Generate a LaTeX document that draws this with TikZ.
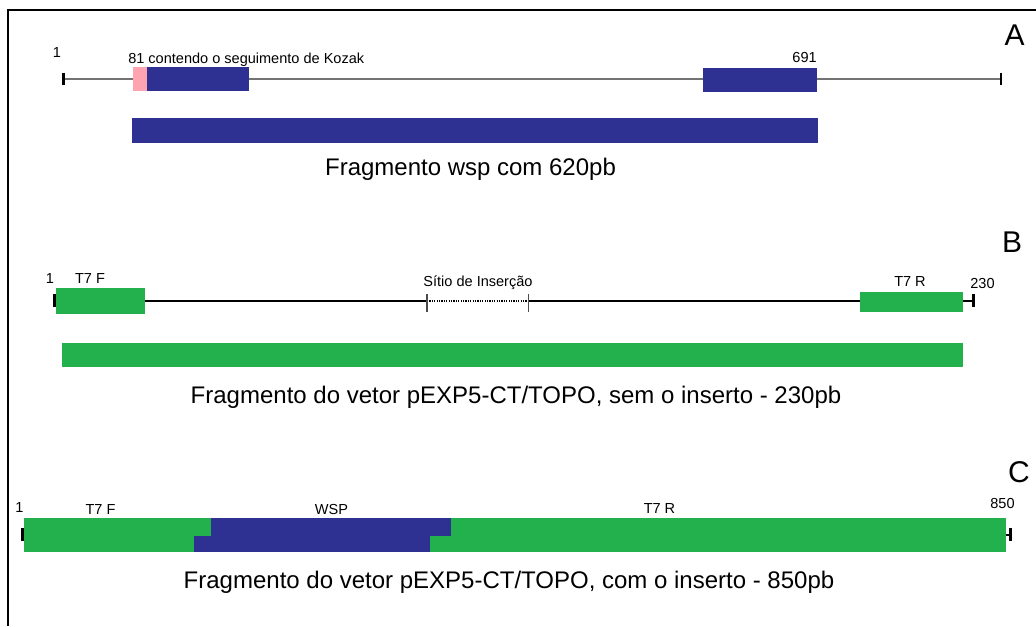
\documentclass[tikz,border=0pt]{standalone}
\usepackage{fontspec}
\setmainfont{Liberation Sans}
\definecolor{wspblue}{HTML}{2E3192}
\definecolor{vetorgreen}{HTML}{22B14C}
\definecolor{kozakpink}{HTML}{FFA3B1}
\begin{document}
\begin{tikzpicture}[x=0.75pt, y=-0.75pt,
        rotulo/.style={inner sep=0pt, anchor=base, font=\fontsize{10.9}{13}\selectfont},
        legenda/.style={inner sep=0pt, anchor=base, font=\fontsize{18}{22}\selectfont},
        painel/.style={inner sep=0pt, anchor=base, font=\fontsize{22.5}{27}\selectfont},
        marca/.style={line width=1.9pt}]
    \useasboundingbox (0,0) rectangle (1036,626);
    % Frame
    \draw[line width=0.8pt] (8,626) -- (8,10) -- (1036,10);

    % A: wsp gene
    \coordinate (aIni) at (63.5,79);
    \coordinate (aFim) at (1001,79);
    \draw[black!55, line width=1.5pt] (aIni) -- (aFim);
    \foreach \p in {aIni, aFim}
        \draw[marca] (\p) ++(0,-6.5) -- ++(0,12.5);
    \fill[kozakpink] (133,67) rectangle (147,91);
    \fill[wspblue] (147,67) rectangle (249,91);
    \fill[wspblue] (703,68) rectangle (817,92);
    % amplified fragment
    \fill[wspblue] (132,118) rectangle (818,143);
    \node[painel] (letraA) at (1014.5,45) {A};
    \node[rotulo] (a1) at (57,57) {1};
    \node[rotulo, anchor=base west] (a81) at (128,63) {81 contendo o seguimento de Kozak};
    \node[rotulo, anchor=base east] (a691) at (817,62) {691};
    \node[legenda] (aLeg) at (470.5,175) {Fragmento wsp com 620pb};

    % B: vector without insert
    \coordinate (bIni) at (54.5,301);
    \coordinate (bFim) at (973.5,301);
    \coordinate (sIni) at (427,301);
    \coordinate (sFim) at (528.5,301);
    \draw[line width=1.7pt] (bIni) -- (sIni);
    \draw[line width=0.8pt, dash pattern=on 0.9pt off 0.9pt] (sIni) -- (sFim);
    \draw[line width=1.7pt] (sFim) -- (bFim);
    \foreach \p in {sIni, sFim}
        \draw[black!70, line width=0.8pt] (\p) ++(0,-7) -- ++(0,18);
    \fill[vetorgreen] (56,288) rectangle (145,314);
    \fill[vetorgreen] (860,292) rectangle (963,312);
    \foreach \p in {bIni, bFim}
        \draw[marca] (\p) ++(0,-7) -- ++(0,13);
    % amplified fragment
    \fill[vetorgreen] (62,343) rectangle (963,367);
    \node[painel] (letraB) at (1012,252) {B};
    \node[rotulo] (b1) at (50,283) {1};
    \node[rotulo] (bT7F) at (90,283) {T7 F};
    \node[rotulo] (bSitio) at (478,286) {Sítio de Inserção};
    \node[rotulo] (bT7R) at (910,286.5) {T7 R};
    \node[rotulo] (b230) at (982.5,288) {230};
    \node[legenda] (bLeg) at (516,403) {Fragmento do vetor pEXP5-CT/TOPO, sem o inserto - 230pb};

    % C: vector with insert
    \coordinate (cIni) at (22.5,535);
    \coordinate (cFim) at (1010.5,535);
    \draw[line width=1.5pt] (cIni) -- (cFim);
    \fill[vetorgreen] (24,518) rectangle (1006,552);
    \fill[wspblue] (211,518) rectangle (450.5,535.5);
    \fill[wspblue] (194,535.5) rectangle (430,552);
    \foreach \p in {cIni, cFim}
        \draw[marca] (\p) ++(0,-7) -- ++(0,13);
    \node[painel] (letraC) at (1019,482) {C};
    \node[rotulo] (c1) at (19.5,512) {1};
    \node[rotulo] (cT7F) at (100.5,514) {T7 F};
    \node[rotulo] (cWSP) at (331.5,514) {WSP};
    \node[rotulo] (cT7R) at (659.5,513) {T7 R};
    \node[rotulo] (c850) at (1002.5,508) {850};
    \node[legenda] (cLeg) at (509,588) {Fragmento do vetor pEXP5-CT/TOPO, com o inserto - 850pb};
\end{tikzpicture}
\end{document}
